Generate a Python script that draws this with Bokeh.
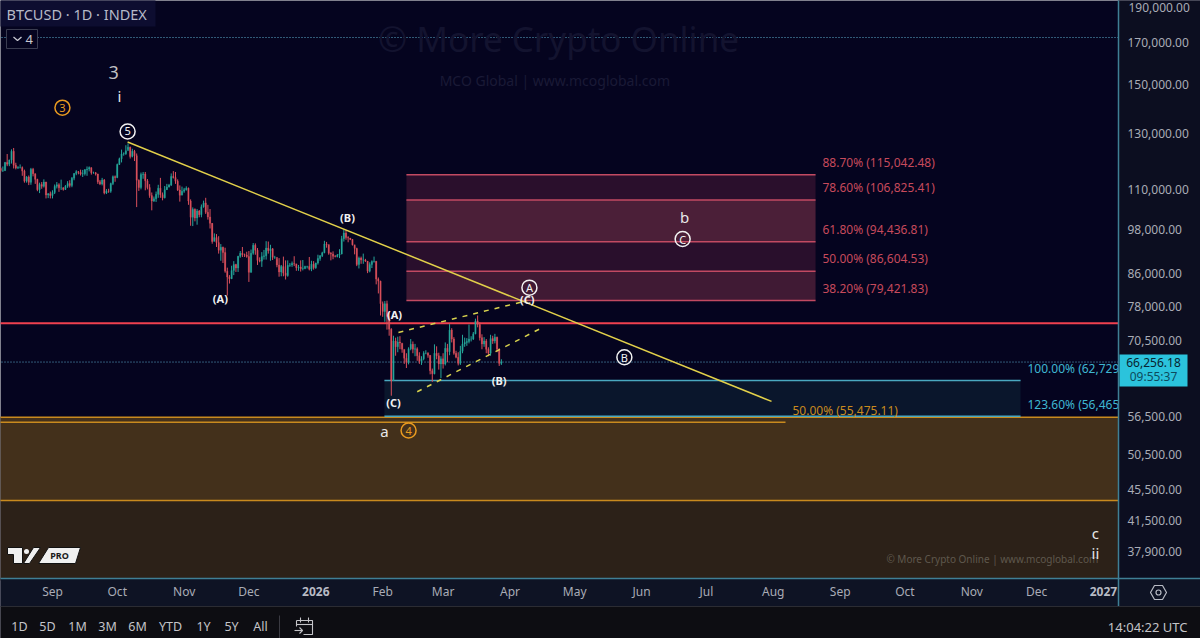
import math
import numpy as np
import pandas as pd
from bokeh.core.properties import value
from bokeh.embed import file_html
from bokeh.resources import INLINE
from bokeh.plotting import figure
from bokeh.models import Range1d, FixedTicker, NumeralTickFormatter, ColumnDataSource

# ---- daily candles, in thousands of USD, one small list per month ----
close_aug = [116.5,116.5,119.3,118.7,120.2,123.3,118.3,117.4,117.5,117.5,116.3,112.9,114.3,112.5,116.9,115.4,113.5,110.1,111.8,111.2,112.6,108.4,108.8,108.2]
high_aug = [117.6,117.9,119.5,122.3,120.3,124.0,124.5,119.2,118.0,118.6,117.9,116.8,114.6,114.8,117.4,117.4,115.5,113.7,112.4,112.6,113.5,112.7,109.0,109.5]
low_aug = [115.9,116.0,116.3,118.0,118.0,118.9,117.2,116.9,117.0,117.2,114.7,112.4,112.4,111.6,111.7,114.5,112.0,109.6,109.0,110.4,110.8,107.3,107.4,107.3]
close_sep = [109.2,111.2,111.7,110.7,110.7,110.2,111.2,112.1,111.5,113.9,115.5,116.1,115.9,115.3,115.4,116.8,117.0,117.5,115.7,115.7,115.3,112.7,112.0,113.3,109.0,109.7,109.6,112.1,114.4,114.1]
high_sep = [109.9,111.8,112.6,112.2,113.4,110.9,111.6,112.9,113.2,114.3,115.6,116.6,116.3,116.8,116.7,117.0,117.9,117.9,117.5,116.1,116.0,115.4,113.3,114.0,113.6,110.3,110.4,112.4,114.8,114.8]
low_sep = [107.3,108.7,110.5,109.4,110.0,109.8,110.0,110.7,110.8,110.9,113.2,114.9,115.2,114.8,114.3,114.8,114.7,116.2,115.1,115.4,114.8,112.0,111.6,111.5,108.6,108.7,109.1,109.1,111.6,112.7]
close_oct = [118.6,120.6,122.3,122.4,123.5,124.8,121.4,123.3,121.7,113.2,110.8,115.1,115.3,113.0,110.8,108.2,106.5,107.2,108.6,110.6,108.5,107.5,110.1,111.0,111.6,114.5,114.1,112.9,110.0,108.3,109.6]
high_oct = [118.9,121.0,123.9,122.9,125.5,126.2,125.0,124.2,123.8,122.5,113.5,115.8,116.0,116.0,113.6,111.9,109.2,107.9,109.5,111.7,114.0,109.2,111.3,112.0,112.0,115.5,116.3,116.0,113.5,111.5,111.1]
low_oct = [113.9,118.4,119.3,121.7,122.0,124.0,120.7,121.1,119.8,104.6,109.7,110.2,113.7,109.9,110.2,107.5,103.6,106.2,106.2,107.5,107.5,106.7,107.3,110.0,110.8,111.3,113.8,112.0,109.7,106.3,108.4]
close_nov = [110.1,110.6,106.5,101.5,103.9,101.3,103.4,102.3,104.7,105.9,103.0,101.6,99.7,94.5,95.6,94.2,92.1,92.9,91.5,86.6,85.1,84.7,86.8,88.3,87.4,90.5,91.3,90.9,90.8,90.4]
high_nov = [110.7,111.2,110.8,107.0,104.5,104.2,104.0,103.7,105.4,106.6,107.5,105.3,104.0,99.8,96.8,96.6,96.0,93.8,93.1,92.8,87.5,85.6,88.0,89.2,88.5,90.6,91.9,93.0,91.2,91.7]
low_nov = [109.1,109.8,105.3,99.0,98.9,100.3,99.3,101.5,101.5,104.4,102.5,100.8,98.2,93.9,94.7,93.0,91.2,89.3,88.7,86.2,80.6,83.5,84.6,85.6,86.4,86.4,90.1,90.3,90.3,90.1]
close_dec = [86.3,91.3,93.5,92.1,89.4,89.2,90.4,90.6,92.7,92.0,92.5,90.2,90.2,88.2,86.4,87.8,86.1,85.5,88.1,88.2,88.6,88.5,87.5,87.7,87.2,87.3,87.8,87.8,87.1,88.4,87.5]
high_dec = [91.9,92.3,94.1,94.0,92.7,90.2,91.6,92.2,94.6,94.5,93.6,92.7,90.6,89.7,90.0,88.2,90.4,89.4,89.4,88.7,89.1,90.5,88.0,88.2,89.4,89.5,88.0,88.0,90.3,89.3,89.2]
low_dec = [83.9,86.2,90.9,90.9,88.2,88.9,87.7,89.6,89.6,91.2,89.3,89.5,89.8,87.6,85.2,85.3,85.3,84.5,85.2,87.7,87.7,87.9,86.7,86.7,86.5,86.8,87.1,87.3,86.8,86.6,87.0]
close_jan = [88.7,89.9,90.6,91.4,93.8,93.7,91.3,91.1,90.5,90.4,90.8,91.1,95.3,96.9,95.6,95.5,95.1,93.6,92.6,88.3,90.0,89.5,89.5,89.2,86.6,88.3,89.1,89.2,84.6,84.1,78.7]
high_jan = [88.8,90.9,90.8,91.7,94.7,94.4,93.5,91.6,91.8,90.8,91.1,92.4,96.1,97.9,97.7,96.0,95.5,95.2,93.3,92.8,90.4,90.4,91.2,89.8,89.2,88.9,89.4,90.4,89.2,85.0,84.2]
low_jan = [87.2,88.3,89.3,90.3,91.3,92.8,90.9,89.4,89.7,90.2,90.2,90.0,91.0,94.5,95.0,94.3,94.9,93.4,91.0,87.9,87.3,88.5,88.5,89.0,86.1,86.3,87.4,88.8,83.3,81.1,76.0]
close_feb = [76.9,78.7,75.8,73.0,62.7,70.5,69.3,70.3,70.1,68.8,67.0,66.2,68.9,69.8,68.8,68.9,67.5,66.4,66.9,68.0,68.0,67.6,64.6,64.0,68.0,67.5,65.9,66.9]
high_feb = [79.2,79.3,79.4,76.9,73.2,71.6,71.2,71.4,71.5,69.9,68.6,68.0,69.2,70.9,70.4,69.9,69.2,68.2,67.4,68.4,68.6,68.2,67.6,65.0,69.8,69.4,68.1,67.4]
low_feb = [75.7,74.6,72.9,71.6,60.0,62.7,67.5,68.2,68.8,68.1,65.9,65.1,65.8,68.6,68.0,67.4,66.5,65.9,65.7,66.6,67.8,67.1,63.9,62.5,63.9,66.8,64.8,63.2]
close_mar = [65.9,69.0,68.3,72.8,70.9,68.0,67.2,66.0,68.4,69.9,70.2,70.4,70.9,70.9,72.0,74.8,74.0,71.2,69.9,70.5,68.8,68.0,71.0,70.5,71.3,68.8,66.0,66.256]
high_mar = [68.0,70.2,69.9,74.1,73.2,71.3,68.5,68.2,69.5,71.8,71.2,71.1,74.0,71.5,72.4,75.3,76.0,74.5,71.9,71.3,70.9,69.2,71.8,71.6,72.0,71.4,69.0,66.8]
low_mar = [65.0,65.6,66.2,67.6,70.2,67.7,67.0,65.6,65.7,68.0,69.3,69.5,70.0,70.4,70.7,71.9,73.4,70.6,68.8,69.3,68.0,67.4,67.5,69.9,70.0,68.2,65.5,65.7]
first_open = 117.2

price_ticks = [170000,150000,130000,110000,98000,86000,78000,70500,56500,50500,45500,41500,37900]
month_ticks = [0,30,61,91,122,153,181,212,242,273,303,334,365,395,426,456,487]
month_labels = ["Sep","Oct","Nov","Dec","","Feb","Mar","Apr","May","Jun","Jul","Aug","Sep","Oct","Nov","Dec",""]
year_ticks = [122,487]
year_labels = ["2026","2027"]
range_buttons = ["1D","5D","1M","3M","6M","YTD","1Y","5Y","All"]

# ---- Fibonacci levels ----
red_levels = [115042.48,106825.41,94436.81,86604.53,79421.83]
red_labels = ["88.70% (115,042.48)","78.60% (106,825.41)","61.80% (94,436.81)","50.00% (86,604.53)","38.20% (79,421.83)"]
red_fills = ["#2a0f2c","#4b1f38","#290f2c","#401a34"]
blue_levels = [62729,56465]
blue_labels = ["100.00% (62,729.","123.60% (56,465."]
orange_level = 55475.11
orange_label = "50.00% (55,475.11)"
zone_top, zone_mid = 56300, 44060
red_line, ath_line, last_price = 74270, 172400, 66256.18

# ---- trend lines: (day since 2025-09-01, price) ----
trend_days, trend_prices = [34.8,333.2], [126700,59000]
wedge_up_days, wedge_up_prices = [160.3,220], [72300,79400]
wedge_lo_days, wedge_lo_prices = [169,226], [60700,73100]

# ---- wave labels ----
plain_text = ["3","i","a","b","c","ii"]
plain_days = [28.3,31,153.8,292.9,483.3,483.3]
plain_prices = [155500,144900,54000,101700,40000,37700]
paren_text = ["(A)","(B)","(A)","(C)","(B)","(C)"]
paren_days = [77.8,136.7,158.5,158,207,220]
paren_prices = [79900,101400,76200,58800,62800,79600]
ring_text = ["5","A","B","C"]
ring_days = [34.8,221,265,292]
ring_prices = [130700,82500,67200,95200]
ring_orange_text = ["3","4"]
ring_orange_days = [4.6,165]
ring_orange_prices = [140200,54150]

FONT = value("Noto Sans")
GREY = "#a9acb6"
TEAL = "#3f7f95"
TOOL = "#c4c4c8"

def X(px):   # screen pixel -> day, only for the furniture of the chart window
    return (px - 52) / 2.158
def Y(py):   # screen pixel -> price, only for the furniture of the chart window
    return 190000 * math.exp(-(py - 4) / 339.4)
def XS(pts):
    return [X(a) for a in pts]
def YS(pts):
    return [Y(b) for b in pts]

closes = np.array(close_aug+close_sep+close_oct+close_nov+close_dec+close_jan+close_feb+close_mar)*1000
highs = np.array(high_aug+high_sep+high_oct+high_nov+high_dec+high_jan+high_feb+high_mar)*1000
lows = np.array(low_aug+low_sep+low_oct+low_nov+low_dec+low_jan+low_feb+low_mar)*1000
opens = np.concatenate([[first_open*1000], closes[:-1]])
dates = pd.date_range("2025-08-08", periods=len(closes))
days = np.array((dates - pd.Timestamp("2025-09-01")).days, dtype=float)
colors = np.where(closes >= opens, "#26a69a", "#d9505c").tolist()
src = ColumnDataSource(dict(x=days, o=opens, c=closes, h=highs, l=lows, color=colors))

p = figure(frame_width=1200, frame_height=638, output_backend="svg", toolbar_location=None,
           x_range=Range1d(X(0), X(1200)), y_range=Range1d(Y(638), Y(0)),
           y_axis_type="log", y_axis_location="right", min_border=0,
           background_fill_color="#05041f", border_fill_color="#05041f", outline_line_color=None)
p.grid.visible = False
p.yaxis.fixed_location = X(1118)
p.yaxis.ticker = FixedTicker(ticks=price_ticks)
p.yaxis.formatter = NumeralTickFormatter(format="0,0.00")
p.yaxis.major_label_text_color = GREY
p.yaxis.major_label_text_font = "Noto Sans"
p.yaxis.major_label_text_font_size = "12px"
p.yaxis.major_label_standoff = 3
p.yaxis.major_tick_line_color = None
p.yaxis.minor_tick_line_color = None
p.yaxis.axis_line_color = None
p.xaxis.fixed_location = Y(572)
p.xaxis.ticker = FixedTicker(ticks=month_ticks)
p.xaxis.major_label_overrides = {t: l for t, l in zip(month_ticks, month_labels)}
p.xaxis.major_label_text_color = GREY
p.xaxis.major_label_text_font = "Noto Sans"
p.xaxis.major_label_text_font_size = "12px"
p.xaxis.major_label_standoff = 4
p.xaxis.major_tick_line_color = None
p.xaxis.minor_tick_line_color = None
p.xaxis.axis_line_color = None

LEFT, RIGHT = X(-20), X(1118)
# header tint and zones
p.quad(left=[LEFT], right=[X(155)], bottom=[Y(26)], top=[Y(-10)], fill_color="#0d0d30", line_color=None)
p.quad(left=[LEFT], right=[RIGHT], bottom=[zone_mid], top=[zone_top], fill_color="#43301b", line_color=None)
p.quad(left=[LEFT], right=[RIGHT], bottom=[Y(580)], top=[zone_mid], fill_color="#2c2118", line_color=None)
p.segment(x0=[LEFT,LEFT], x1=[RIGHT,RIGHT], y0=[zone_top,zone_mid], y1=[zone_top,zone_mid], line_color="#c98a1e", line_width=1.5)
p.segment(x0=[LEFT], x1=[X(785)], y0=[orange_level], y1=[orange_level], line_color="#c98a1e", line_width=1.5)

fib_left, fib_right = 164, 353.6
p.quad(left=[fib_left]*4, right=[fib_right]*4, top=red_levels[:-1], bottom=red_levels[1:], fill_color=red_fills, line_color=None)
p.segment(x0=[fib_left]*5, x1=[fib_right]*5, y0=red_levels, y1=red_levels, line_color="#c24a62", line_width=1.5)
blue_left, blue_right = 153.8, 448.6
p.quad(left=[blue_left], right=[blue_right], top=[blue_levels[0]], bottom=[blue_levels[1]], fill_color="#0a162c", line_color=None)
p.segment(x0=[blue_left]*2, x1=[blue_right]*2, y0=blue_levels, y1=blue_levels, line_color="#4aa8c0", line_width=1.5)

# level lines
p.segment(x0=[LEFT,LEFT], x1=[RIGHT,RIGHT], y0=[ath_line,last_price], y1=[ath_line,last_price],
          line_color="#5fb0d0", line_width=1, line_dash="1 2")
p.segment(x0=[LEFT], x1=[RIGHT], y0=[red_line], y1=[red_line], line_color="#f0404f", line_width=2)

# candles
p.segment("x", "h", "x", "l", source=src, line_color="color", line_width=1)
p.vbar(x="x", width=0.62, top="o", bottom="c", source=src, fill_color="color", line_color="color", line_width=0.3)

# trend lines
p.line(trend_days, trend_prices, line_color="#e2d04a", line_width=1.5)
p.line(wedge_up_days, wedge_up_prices, line_color="#d8d24e", line_width=1.5, line_dash=[5,6])
p.line(wedge_lo_days, wedge_lo_prices, line_color="#d8d24e", line_width=1.5, line_dash=[5,6])

# Fibonacci labels
p.text(x=[X(822)]*5, y=red_levels, text=red_labels, text_color="#c74a5c", text_font=FONT, text_font_size="12px",
       text_baseline="middle", y_offset=-12.5)
p.text(x=[X(1027)]*2, y=blue_levels, text=blue_labels, text_color="#3fb7d2", text_font=FONT, text_font_size="12px",
       text_baseline="middle", y_offset=-12)
p.text(x=[X(792)], y=[orange_level], text=[orange_label], text_color="#c98a1e", text_font=FONT, text_font_size="12px",
       text_baseline="middle", y_offset=-12)

# watermarks
p.text(x=[X(558)], y=[Y(38)], text=["© More Crypto Online"], text_color="#13132f", text_font=FONT, text_font_size="35px",
       text_align="center", text_baseline="middle")
p.text(x=[X(558)], y=[Y(80)], text=["MCO Global  |  www.mcoglobal.com"], text_color="#1a1a36", text_font=FONT, text_font_size="14px",
       text_align="center", text_baseline="middle")
p.text(x=[X(1103)], y=[Y(558)], text=["© More Crypto Online  |  www.mcoglobal.com"], text_color="#5f584d", text_font=FONT, text_font_size="10px",
       text_align="right", text_baseline="middle")

# wave labels
p.text(x=paren_days, y=paren_prices, text=paren_text, text_color="#f2f2f2", text_font=FONT, text_font_style="bold",
       text_font_size="11px", text_align="center", text_baseline="middle")
p.text(x=plain_days[:1], y=plain_prices[:1], text=plain_text[:1], text_color="#c0c0c4", text_font=FONT, text_font_size="18px",
       text_align="center", text_baseline="middle")
p.text(x=plain_days[1:], y=plain_prices[1:], text=plain_text[1:], text_color="#e8e8e8", text_font=FONT, text_font_size="15px",
       text_align="center", text_baseline="middle")
p.scatter(x=ring_days, y=ring_prices, size=15, marker="circle", fill_color=None, line_color="#f2f2f2", line_width=1.5)
p.text(x=ring_days, y=ring_prices, text=ring_text, text_color="#f2f2f2", text_font=FONT, text_font_size="11px",
       text_align="center", text_baseline="middle")
p.scatter(x=ring_orange_days, y=ring_orange_prices, size=15, marker="circle", fill_color=None, line_color="#e89a20", line_width=1.5)
p.text(x=ring_orange_days, y=ring_orange_prices, text=ring_orange_text, text_color="#e89a20", text_font=FONT, text_font_size="11px",
       text_align="center", text_baseline="middle")

# title and collapse button
p.text(x=[X(6)], y=[Y(13)], text=["BTCUSD · 1D · INDEX"], text_color="#b6bac8", text_font=FONT, text_font_size="14.5px", text_baseline="middle")
p.quad(left=[X(6)], right=[X(37)], top=[Y(29)], bottom=[Y(48)], fill_color="#05041f", line_color="#3a3c50", line_width=1)
p.line(XS([13,17,21]), YS([36.5,40,36.5]), line_color="#c8c8d0", line_width=1.3)
p.text(x=[X(25)], y=[Y(39)], text=["4"], text_color="#c8c8d0", text_font=FONT, text_font_size="13px", text_baseline="middle")

# TradingView badge
p.patches(xs=[XS([7,22,22,13,13,7]), XS([23,33,40,29]), XS([38,48,80,75])],
          ys=[YS([547,547,563,563,554,554]), YS([563,547,547,563]), YS([563,547,547,563])],
          fill_color="#f0f0f0", line_color="#111111", line_width=1)
p.scatter(x=[X(26)], y=[Y(551)], size=5, marker="circle", fill_color="#f0f0f0", line_color=None)
p.text(x=[X(59)], y=[Y(555)], text=["PRO"], text_color="#1a1a1a", text_font=FONT, text_font_style="bold", text_font_size="9px",
       text_align="center", text_baseline="middle")

# window furniture: price band, time band, range-button strip
p.quad(left=[X(1118)], right=[X(1205)], top=[Y(-5)], bottom=[Y(606)], fill_color="#0c0e20", line_color=None)
p.quad(left=[X(-5)], right=[X(1205)], top=[Y(578)], bottom=[Y(606)], fill_color="#0e1324", line_color=None)
p.quad(left=[X(-5)], right=[X(1205)], top=[Y(606)], bottom=[Y(645)], fill_color="#0d0d12", line_color=None)
p.segment(x0=[X(-5)], x1=[X(1205)], y0=[Y(578)], y1=[Y(578)], line_color=TEAL, line_width=1.5)
p.segment(x0=[X(1118)], x1=[X(1118)], y0=[Y(-5)], y1=[Y(606)], line_color=TEAL, line_width=1.5)
p.segment(x0=[X(-5)], x1=[X(1205)], y0=[Y(606)], y1=[Y(606)], line_color="#2b2c33", line_width=1)

# highest price label sits just inside the top edge, the rest come from the axis
p.text(x=[X(1128)], y=[Y(6.5)], text=["190,000.00"], text_color=GREY, text_font=FONT, text_font_size="12px", text_baseline="middle")

# current-price tag
p.quad(left=[X(1119)], right=[X(1187)], top=[Y(354)], bottom=[Y(386)], fill_color="#2bc3dc", line_color=None)
p.text(x=[X(1153)]*2, y=[Y(362), Y(376)], text=["66,256.18","09:55:37"], text_color=["#082430","#0d4a5c"], text_font=FONT,
       text_font_size="12px", text_align="center", text_baseline="middle")

# bold year labels and settings icon on the time band
p.text(x=year_ticks, y=[Y(591)]*2, text=year_labels, text_color="#b8bbc4", text_font=FONT, text_font_style="bold", text_font_size="12px",
       text_align="center", text_baseline="middle")
p.patch(XS([1150,1154,1162,1166,1162,1154]), YS([592,585,585,592,599,599]), fill_alpha=0, line_color="#b8bbc4", line_width=1.2)
p.scatter(x=[X(1158)], y=[Y(592)], size=5, marker="circle", fill_color=None, line_color="#b8bbc4", line_width=1.2)

# range buttons, date-range icon and clock
button_x = [19,47,77,107,137,170,203,231,260]
p.text(x=XS(button_x), y=[Y(626)]*9, text=range_buttons, text_color=TOOL, text_font=FONT, text_font_size="12.5px",
       text_align="center", text_baseline="middle")
p.text(x=[X(1187)], y=[Y(626)], text=["14:04:22 UTC"], text_color=TOOL, text_font=FONT, text_font_size="13px",
       text_align="right", text_baseline="middle")
p.segment(x0=[X(279)], x1=[X(279)], y0=[Y(615)], y1=[Y(638)], line_color="#3a3a42", line_width=1)
p.multi_line(xs=[XS(a) for a in [[296,312,312,303],[296,296],[296,312],[300,300],[308,308],[294,302],[299,302,299]]],
             ys=[YS(b) for b in [[620,620,634,634],[620,626],[624,624],[617,622],[617,622],[630,630],[627,630,633]]],
             line_color=TOOL, line_width=1.1)

open("out.html", "w").write(file_html(p, INLINE))
